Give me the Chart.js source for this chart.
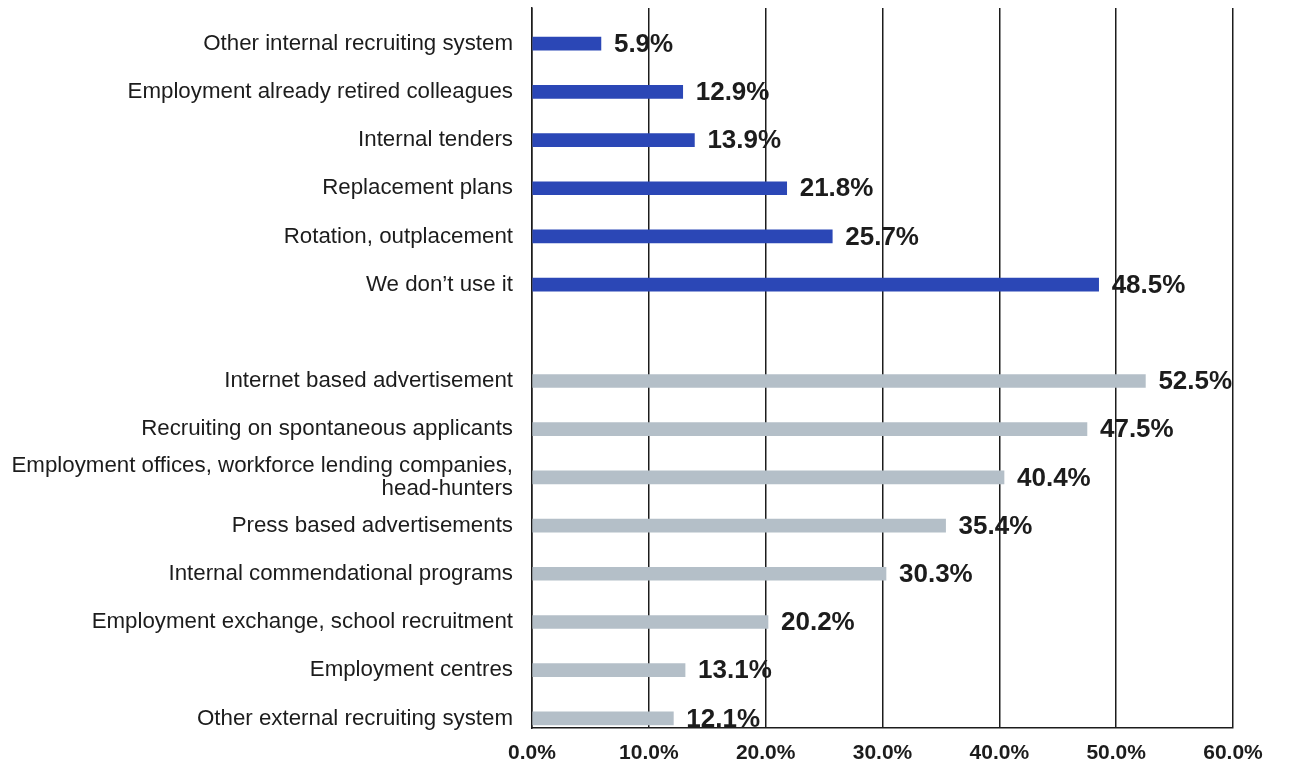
<!DOCTYPE html>
<html>
<head>
<meta charset="utf-8">
<title>Recruiting channels</title>
<script src="https://cdn.jsdelivr.net/npm/chart.js@4/dist/chart.umd.min.js"></script>
<style>
    html, body { margin: 0; padding: 0; background: #fff; }
    #wrap { width: 1291px; height: 765px; }
</style>
</head>
<body>
<div id="wrap"><canvas id="recruitChart" width="1291" height="765"></canvas></div>
<script>
// internal channels (top block, blue)
const internalLabels = [
    'Other internal recruiting system',
    'Employment already retired colleagues',
    'Internal tenders',
    'Replacement plans',
    'Rotation, outplacement',
    'We don\u2019t use it'
];
const internalValues = [5.9, 12.9, 13.9, 21.8, 25.7, 48.5];

// external channels (bottom block, grey)
const externalLabels = [
    'Internet based advertisement',
    'Recruiting on spontaneous applicants',
    ['Employment offices, workforce lending companies,', 'head-hunters'],
    'Press based advertisements',
    'Internal commendational programs',
    'Employment exchange, school recruitment',
    'Employment centres',
    'Other external recruiting system'
];
const externalValues = [52.5, 47.5, 40.4, 35.4, 30.3, 20.2, 13.1, 12.1];

const xTicks = [0, 10, 20, 30, 40, 50, 60];

// one empty row between the two blocks
const rowLabels = [...internalLabels, '', ...externalLabels];
const gapRow = internalLabels.length;
const externalStart = gapRow + 1;

const ink = '#1c1c1c';
const fontFamily = '"Liberation Sans", Arial, Helvetica, sans-serif';

// prints the value at the end of every bar
const valueLabels = {
    id: 'valueLabels',
    afterDatasetsDraw(chart) {
        const c = chart.ctx;
        c.save();
        c.font = 'bold 26px ' + fontFamily;
        c.fillStyle = ink;
        c.textAlign = 'left';
        c.textBaseline = 'middle';
        chart.data.datasets.forEach((ds, di) => {
            chart.getDatasetMeta(di).data.forEach((bar, i) => {
                c.fillText(ds.data[i].x.toFixed(1) + '%', bar.x + 13, bar.y + 1);
            });
        });
        c.restore();
    }
};

const ctx = document.getElementById('recruitChart').getContext('2d');
const myChart = new Chart(ctx, {
    type: 'bar',
    data: {
        datasets: [{
            label: 'Internal',
            data: internalValues.map((v, i) => ({ x: v, y: i })),
            backgroundColor: '#2b47b6'
        }, {
            label: 'External',
            data: externalValues.map((v, i) => ({ x: v, y: externalStart + i })),
            backgroundColor: '#b4bfc8'
        }]
    },
    options: {
        indexAxis: 'y',
        responsive: false,
        animation: false,
        grouped: false,
        barThickness: 13,
        layout: { padding: { top: 8, right: 58, left: 0, bottom: 0 } },
        plugins: {
            legend: { display: false },
            tooltip: { enabled: false }
        },
        scales: {
            x: {
                type: 'linear',
                min: 0,
                max: 60,
                afterBuildTicks: axis => { axis.ticks = xTicks.map(v => ({ value: v })); },
                afterFit: axis => { axis.height = 37; axis.paddingLeft = 0; axis.paddingRight = 0; },
                grid: { color: ink, lineWidth: 1.5, drawTicks: false },
                border: { display: true, color: ink, width: 1.5 },
                ticks: {
                    padding: 13,
                    color: ink,
                    font: { family: fontFamily, size: 21, weight: 'bold' },
                    callback: v => v.toFixed(1) + '%'
                }
            },
            y: {
                type: 'linear',
                reverse: true,
                offset: false,
                min: -0.74,
                max: 14.2,
                afterBuildTicks: axis => { axis.ticks = rowLabels.map((_, i) => ({ value: i })); },
                // the row labels sit well inside the plot, so no extra room above or below
                afterFit: axis => { axis.width = 532; axis.paddingTop = 0; axis.paddingBottom = 0; },
                grid: { display: false, drawTicks: false },
                border: { display: true, color: ink, width: 1.5 },
                ticks: {
                    autoSkip: false,
                    padding: 19,
                    color: ink,
                    font: { family: fontFamily, size: 22.3, lineHeight: 1.05 },
                    callback: v => rowLabels[v]
                }
            }
        }
    },
    plugins: [valueLabels]
});
</script>
</body>
</html>
